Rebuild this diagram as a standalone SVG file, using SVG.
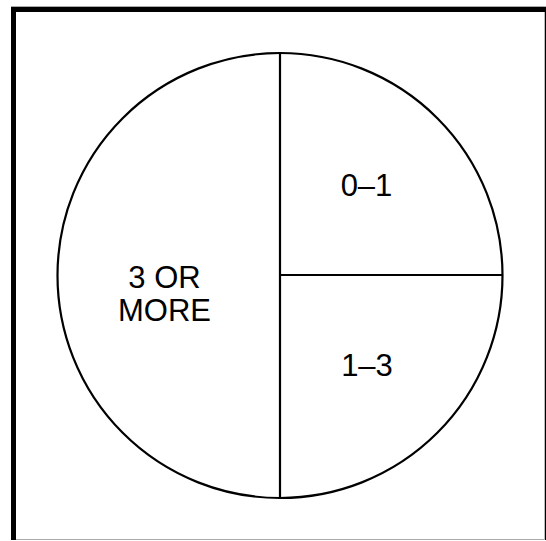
<svg xmlns="http://www.w3.org/2000/svg" width="546" height="541" viewBox="0 0 546 541">
<style>
.ln{stroke:#000;stroke-width:2.2;fill:none}
.t{font-family:"Liberation Sans",Arial,sans-serif;font-size:31px;fill:#000;text-anchor:middle}
</style>
<rect x="0" y="0" width="546" height="541" fill="#fff"/>
<g id="frame">
<line x1="11" y1="6.5" x2="546" y2="6.5" stroke="#aaa" stroke-width="1"/>
<line x1="11" y1="539.5" x2="546" y2="539.5" stroke="#aaa" stroke-width="1"/>
<line x1="544.5" y1="6" x2="544.5" y2="540" stroke="#bbb" stroke-width="1"/>
<rect x="11" y="7" width="535" height="5" fill="#000"/>
<rect x="11" y="7" width="5" height="533" fill="#000"/>
<rect x="545" y="12" width="1" height="528" fill="#000"/>
</g>
<g id="connectors">
<circle class="ln" cx="280" cy="275.5" r="222.5"/>
<line class="ln" x1="280" y1="53" x2="280" y2="498"/>
<line class="ln" x1="280" y1="275" x2="502.5" y2="275"/>
</g>
<g id="seg-3-or-more"><text class="t" x="164.5" y="288">3 OR</text><text class="t" x="164.5" y="321">MORE</text></g>
<g id="seg-0-1"><text class="t" x="366.5" y="196">0–1</text></g>
<g id="seg-1-3"><text class="t" x="367" y="376">1–3</text></g>
</svg>
